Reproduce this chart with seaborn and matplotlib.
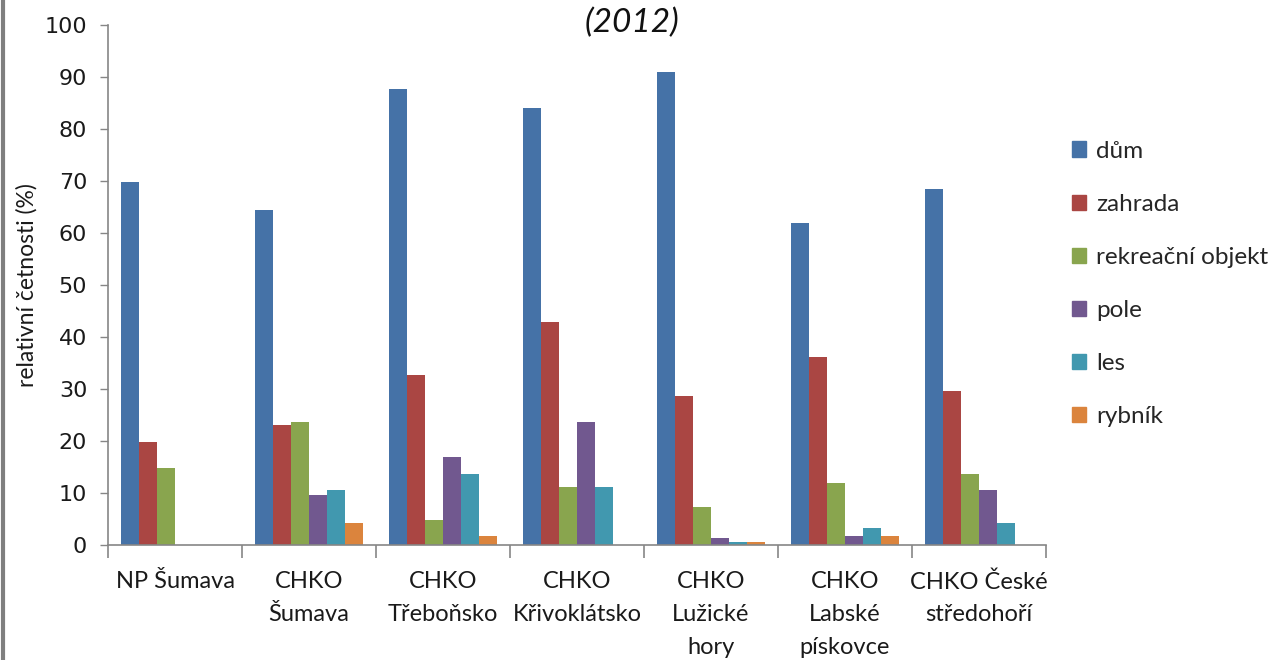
import matplotlib
matplotlib.use("Agg")
import matplotlib.pyplot as plt
from matplotlib.lines import Line2D
from matplotlib.ticker import FixedLocator, NullFormatter
import numpy as np
import pandas as pd
import seaborn as sns

# Areas (x categories)
areas = [
    "NP Šumava",
    "CHKO\nŠumava",
    "CHKO\nTřeboňsko",
    "CHKO\nKřivoklátsko",
    "CHKO\nLužické\nhory",
    "CHKO\nLabské\npískovce",
    "CHKO České\nstředohoří",
]

# Location types (series)
series = ["dům", "zahrada", "rekreační objekt", "pole", "les", "rybník"]

# Relative frequencies (%) per series, one value per area
dum = [69.8, 64.5, 87.7, 84.0, 90.9, 62.0, 68.5]
zahrada = [19.8, 23.0, 32.6, 42.8, 28.7, 36.1, 29.7]
rekreacni = [14.8, 23.7, 4.9, 11.1, 7.4, 11.9, 13.6]
pole = [0.0, 9.6, 17.0, 23.7, 1.3, 1.7, 10.6]
les = [0.0, 10.6, 13.6, 11.1, 0.5, 3.2, 4.2]
rybnik = [0.0, 4.2, 1.7, 0.0, 0.5, 1.7, 0.0]

colors = ["#4572A7", "#AA4643", "#89A54E", "#71588F", "#4198AF", "#DB843D"]
y_ticks = [0, 10, 20, 30, 40, 50, 60, 70, 80, 90, 100]

values = [dum, zahrada, rekreacni, pole, les, rybnik]
df = pd.DataFrame(
    [(a, s, v[i]) for s, v in zip(series, values) for i, a in enumerate(areas)],
    columns=["oblast", "typ", "hodnota"],
)

sns.set_style("white")
plt.rcParams["font.family"] = ["Lato", "DejaVu Sans"]

fig = plt.figure(figsize=(12.71, 6.60), dpi=100)
ax = fig.add_axes([108 / 1271, 1 - 545 / 660, (1046 - 108) / 1271, (545 - 25) / 660])

sns.barplot(
    data=df, x="oblast", y="hodnota", hue="typ",
    order=areas, hue_order=series, palette=colors,
    width=0.8, gap=0, linewidth=0, saturation=1, errorbar=None, ax=ax,
)

axis_grey = "#868686"
ax.set_xlim(-0.5, len(areas) - 0.5)
ax.set_ylim(0, 100)
ax.set_yticks(y_ticks)
ax.set_yticklabels([str(t) for t in y_ticks], family="DejaVu Sans", fontsize=16, color="#1a1a1a")
ax.tick_params(axis="y", direction="out", length=6, width=1, color=axis_grey, pad=9, left=True)

# category labels centred, separator ticks between categories
ax.set_xticks(range(len(areas)))
ax.set_xticklabels(areas, family=["Lato", "DejaVu Sans"], fontsize=17,
                   color="#1a1a1a", linespacing=1.68)
ax.tick_params(axis="x", which="major", length=0, pad=19)
ax.xaxis.set_minor_locator(FixedLocator(np.arange(-0.5, len(areas), 1.0)))
ax.xaxis.set_minor_formatter(NullFormatter())
ax.tick_params(axis="x", which="minor", direction="out", length=9, width=1.2, color=axis_grey, bottom=True)

for side in ("top", "right"):
    ax.spines[side].set_visible(False)
for side in ("left", "bottom"):
    ax.spines[side].set_color(axis_grey)
    ax.spines[side].set_linewidth(1.2)

ax.set_xlabel("")
ax.set_ylabel("relativní četnosti (%)", fontsize=16.5, color="#1a1a1a", labelpad=5)

ax.legend_.remove()
handles = [plt.Rectangle((0, 0), 1, 1, color=c) for c in colors]
fig.legend(
    handles, series, loc="upper left", bbox_to_anchor=(1062 / 1271, 1 - 131 / 660),
    frameon=False, fontsize=17.5, labelspacing=1.32, handlelength=0.6, handleheight=0.6,
    handletextpad=0.4, borderaxespad=0,
)

fig.text(632 / 1271, 1 - 23 / 660, "(2012)", ha="center", va="center",
         fontsize=24, style="italic", color="#111111")

# left frame line of the chart area
fig.add_artist(Line2D([3 / 1271, 3 / 1271], [0, 1], transform=fig.transFigure,
                      color="#7f7f7f", linewidth=3))

fig.savefig("out.png", dpi=100, facecolor="white")
